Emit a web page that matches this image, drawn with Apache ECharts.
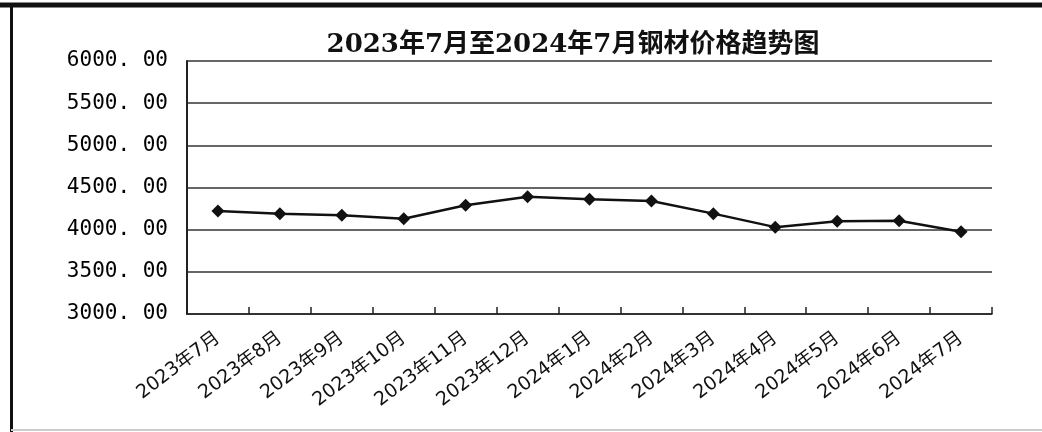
<!DOCTYPE html>
<html>
<head>
<meta charset="utf-8">
<script src="https://cdn.jsdelivr.net/npm/echarts@6/dist/echarts.min.js"></script>
<style>
html,body{margin:0;padding:0;background:#fff;}
#c{width:1042px;height:432px;}
</style>
</head>
<body>
<div id="c"></div>
<script>
var titleText = '2023年7月至2024年7月钢材价格趋势图';
var categories = ['2023年7月','2023年8月','2023年9月','2023年10月','2023年11月','2023年12月','2024年1月','2024年2月','2024年3月','2024年4月','2024年5月','2024年6月','2024年7月'];
var prices = [4220, 4190, 4170, 4130, 4290, 4390, 4360, 4340, 4190, 4030, 4100, 4105, 3975];
var yMin = 3000, yMax = 6000, yStep = 500;

var chart = echarts.init(document.getElementById('c'));
chart.setOption({
  backgroundColor: '#fff',
  animation: false,
  title: {
    text: titleText,
    left: 568, top: 27, textAlign: 'center',
    textStyle: {fontFamily: 'DejaVu Serif, Noto Sans CJK SC', fontSize: 26, fontWeight: 'bold', color: '#111'}
  },
  graphic: [
    {type: 'line', shape: {x1: 0, y1: 5, x2: 1042, y2: 5}, style: {stroke: '#111', lineWidth: 5}},
    {type: 'line', shape: {x1: 11.5, y1: 5, x2: 11.5, y2: 432}, style: {stroke: '#111', lineWidth: 3}},
    {type: 'line', shape: {x1: 11, y1: 430, x2: 1042, y2: 430}, style: {stroke: '#ccc', lineWidth: 2}}
  ],
  grid: {left: 187, right: 50, top: 61, bottom: 118, containLabel: false},
  xAxis: {
    type: 'category',
    data: categories,
    boundaryGap: true,
    axisLine: {lineStyle: {color: '#222', width: 1.5}},
    axisTick: {show: true, inside: true, length: 7, alignWithLabel: false, lineStyle: {color: '#222', width: 1.5}},
    axisLabel: {
      rotate: 37, interval: 0, margin: 22,
      fontFamily: 'DejaVu Sans, Noto Sans CJK SC', fontSize: 19, color: '#111'
    },
    splitLine: {show: false}
  },
  yAxis: {
    type: 'value',
    min: yMin, max: yMax, interval: yStep,
    axisLine: {show: true, lineStyle: {color: '#222', width: 2}},
    axisTick: {show: false},
    axisLabel: {
      margin: 19,
      fontFamily: 'DejaVu Sans Mono', fontSize: 21, color: '#000',
      formatter: function (v) { return v.toFixed(2).replace('.', '. '); }
    },
    splitLine: {show: true, lineStyle: {color: '#333', width: 1.5}}
  },
  series: [{
    type: 'line',
    data: prices,
    symbol: 'diamond',
    symbolSize: 13,
    itemStyle: {color: '#111'},
    lineStyle: {color: '#111', width: 2.5},
    z: 5
  }]
});
</script>
</body>
</html>
